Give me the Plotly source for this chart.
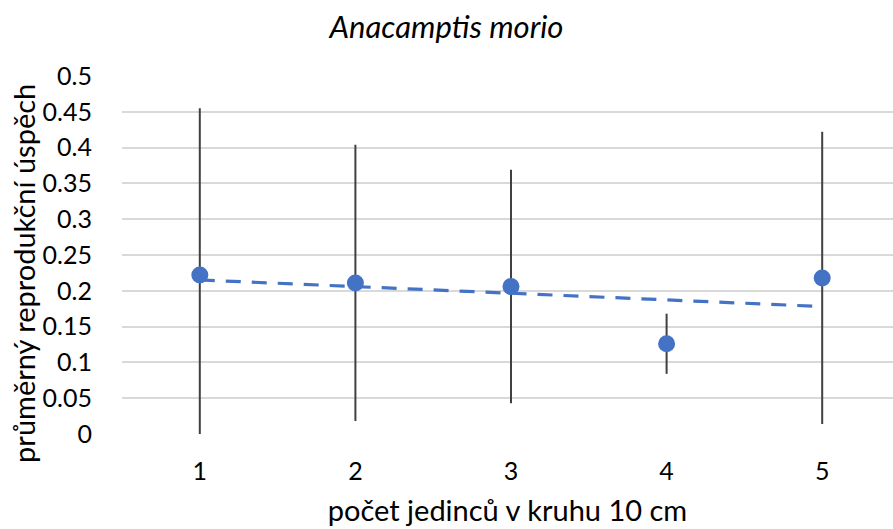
import numpy as np
import plotly.graph_objects as go

x_vals = [1, 2, 3, 4, 5]
means = [0.222, 0.211, 0.206, 0.126, 0.218]
errors = [0.233, 0.193, 0.163, 0.042, 0.204]
y_ticks = [0, 0.05, 0.1, 0.15, 0.2, 0.25, 0.3, 0.35, 0.4, 0.45, 0.5]
y_tick_text = ["0", "0.05", "0.1", "0.15", "0.2", "0.25", "0.3", "0.35", "0.4", "0.45", "0.5"]

# linear trendline (least squares) from the data
slope, intercept = np.polyfit(x_vals, means, 1)
trend_x = [x_vals[0], x_vals[-1]]
trend_y = [slope * v + intercept for v in trend_x]

BLUE = "#4472C4"
FONT = "Lato"

fig = go.Figure()
fig.add_trace(go.Scatter(
    x=x_vals, y=means, mode="markers",
    marker=dict(color=BLUE, size=17),
    error_y=dict(type="data", array=errors, visible=True, color="#404040",
                 thickness=2, width=0),
    showlegend=False,
))
fig.add_trace(go.Scatter(
    x=trend_x, y=trend_y, mode="lines",
    line=dict(color=BLUE, width=3.2, dash="15px,11px"),
    showlegend=False,
))

fig.update_layout(
    width=893, height=529,
    margin=dict(l=122, r=0, t=76, b=95),
    paper_bgcolor="white", plot_bgcolor="white",
    font=dict(family=FONT, color="#000000"),
    title=dict(text="Anacamptis morio", x=0.5, xanchor="center", xref="container",
               y=0.948, yanchor="middle",
               font=dict(family=FONT, size=31, style="italic", color="#000000")),
    annotations=[dict(
        text="průměrný reprodukční úspěch", textangle=-90,
        xref="paper", yref="paper", x=-0.128, y=0.448,
        xanchor="center", yanchor="middle", showarrow=False,
        font=dict(family=FONT, size=29, color="#000000"),
    )],
)
fig.update_xaxes(
    range=[0.5, 5.455], tickvals=x_vals, ticktext=[str(v) for v in x_vals],
    showgrid=False, zeroline=False, showline=False,
    ticks="outside", ticklen=0, tickfont=dict(size=25, family=FONT),
    ticklabelstandoff=15,
    title=dict(text="počet jedinců v kruhu 10 cm", font=dict(size=29, family=FONT), standoff=16),
)
fig.update_yaxes(
    range=[0, 0.5], tickvals=y_ticks, ticktext=y_tick_text,
    showgrid=True, gridcolor="#D9D9D9", gridwidth=1.5, zeroline=False, showline=False,
    ticks="outside", ticklen=0, tickfont=dict(size=25, family=FONT),
    ticklabelstandoff=24,
)

fig.write_html("out.html")
